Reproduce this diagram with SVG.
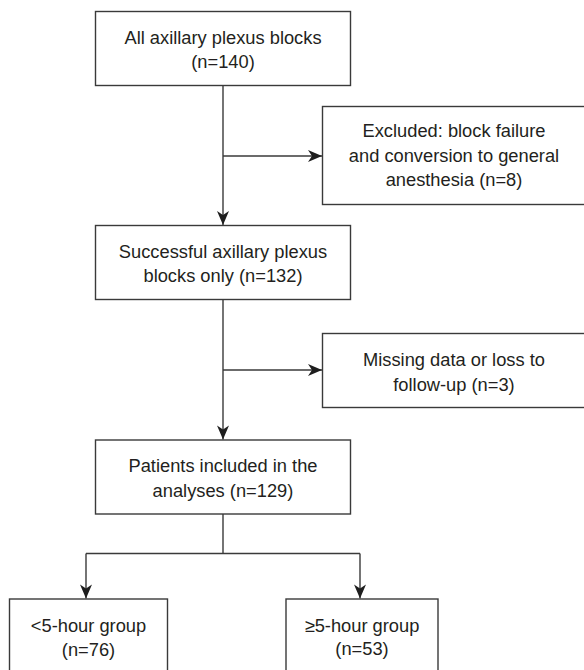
<svg xmlns="http://www.w3.org/2000/svg" width="584" height="670" viewBox="0 0 584 670">
<style>
.box{fill:#fff;stroke:#3a3a3a;stroke-width:1.4}
.t{font-family:"Liberation Sans",Arial,Helvetica,sans-serif;font-size:18.3px;fill:#231f20;text-anchor:middle}
.c{fill:none;stroke:#3a3a3a;stroke-width:1.4}
</style>
<defs>
<marker id="ah" markerUnits="userSpaceOnUse" markerWidth="16" markerHeight="14" viewBox="-1 -7 16 14" refX="14" refY="0" orient="auto">
<path d="M0,-6 L14,0 L0,6 L4,0 Z" fill="#1e1e1e"/>
</marker>
</defs>
<rect width="584" height="670" fill="#fff"/>
<g id="connectors">
<path class="c" d="M223,85.5 V225" marker-end="url(#ah)"/>
<path class="c" d="M223,156 H322" marker-end="url(#ah)"/>
<path class="c" d="M223,299.5 V439.5" marker-end="url(#ah)"/>
<path class="c" d="M223,370 H322" marker-end="url(#ah)"/>
<path class="c" d="M223,514 V553.5"/>
<path class="c" d="M86,553.5 H360"/>
<path class="c" d="M86,553.5 V598.5" marker-end="url(#ah)"/>
<path class="c" d="M360,553.5 V598.5" marker-end="url(#ah)"/>
</g>
<g id="all-blocks">
<rect class="box" x="95.5" y="11.5" width="255" height="74"/>
<text class="t" x="223" y="43.5">All axillary plexus blocks</text>
<text class="t" x="223" y="68">(n=140)</text>
</g>
<g id="excluded">
<rect class="box" x="322.5" y="106.5" width="270" height="98"/>
<text class="t" x="454" y="137">Excluded: block failure</text>
<text class="t" x="454" y="161.5">and conversion to general</text>
<text class="t" x="454" y="185.5">anesthesia (n=8)</text>
</g>
<g id="successful">
<rect class="box" x="95.5" y="225.5" width="255" height="74"/>
<text class="t" x="223" y="257.5">Successful axillary plexus</text>
<text class="t" x="223" y="281.5">blocks only (n=132)</text>
</g>
<g id="missing">
<rect class="box" x="322.5" y="333.5" width="270" height="74"/>
<text class="t" x="454" y="365.5">Missing data or loss to</text>
<text class="t" x="454" y="390.5">follow-up (n=3)</text>
</g>
<g id="included">
<rect class="box" x="95.5" y="440" width="255" height="74"/>
<text class="t" x="223" y="471.5">Patients included in the</text>
<text class="t" x="223" y="496.5">analyses (n=129)</text>
</g>
<g id="lt5">
<rect class="box" x="9.5" y="599" width="158" height="90"/>
<text class="t" x="88.5" y="632">&lt;5-hour group</text>
<text class="t" x="88.5" y="656">(n=76)</text>
</g>
<g id="ge5">
<rect class="box" x="286" y="599" width="152" height="90"/>
<text class="t" x="362" y="631.5">≥5-hour group</text>
<text class="t" x="362" y="655">(n=53)</text>
</g>
</svg>
